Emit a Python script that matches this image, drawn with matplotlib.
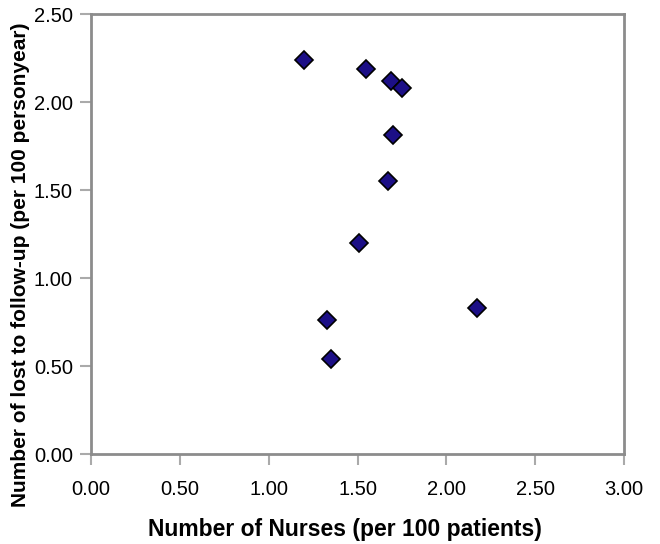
import numpy as np
import matplotlib
matplotlib.use('Agg')
import matplotlib.pyplot as plt

plt.rcParams['font.family'] = ['Liberation Sans', 'DejaVu Sans']

# nurses per 100 patients vs lost to follow-up per 100 personyear
nurses = [1.20, 1.55, 1.69, 1.75, 1.70, 1.67, 1.51, 1.33, 1.35, 2.17]
lost = [2.24, 2.19, 2.12, 2.08, 1.81, 1.55, 1.20, 0.76, 0.54, 0.83]

x_ticks = [0.0, 0.5, 1.0, 1.5, 2.0, 2.5, 3.0]
y_ticks = [0.0, 0.5, 1.0, 1.5, 2.0, 2.5]

fig = plt.figure(figsize=(6.6, 5.44), dpi=100)
ax = fig.add_axes([91 / 660, 1 - 454 / 544, 533 / 660, 440 / 544])

ax.plot(nurses, lost, linestyle='none', marker='D', markersize=9,
        markerfacecolor='#1c0f86', markeredgecolor='black', markeredgewidth=1.2)

ax.set_xlim(0, 3)
ax.set_ylim(0, 2.5)
ax.set_xticks(x_ticks)
ax.set_yticks(y_ticks)
ax.set_xticklabels(['%.2f' % v for v in x_ticks])
ax.set_yticklabels(['%.2f' % v for v in y_ticks])

for s in ax.spines.values():
    s.set_color('#8c8c8c')
    s.set_linewidth(2)

ax.tick_params(axis='x', length=8, width=1.5, color='#aaaaaa', pad=11, labelsize=14.5)
ax.tick_params(axis='y', length=8, width=1.5, color='#aaaaaa', pad=5, labelsize=14.5)

ax.set_xlabel('Number of Nurses (per 100 patients)', fontweight='bold', fontsize=16.5)
ax.set_ylabel('Number of lost to follow-up (per 100 personyear)', fontweight='bold', fontsize=15)
ax.xaxis.set_label_coords(0.477, -0.145)
ax.yaxis.set_label_coords(-0.114, 0.43)

fig.savefig('out.png', dpi=100)
